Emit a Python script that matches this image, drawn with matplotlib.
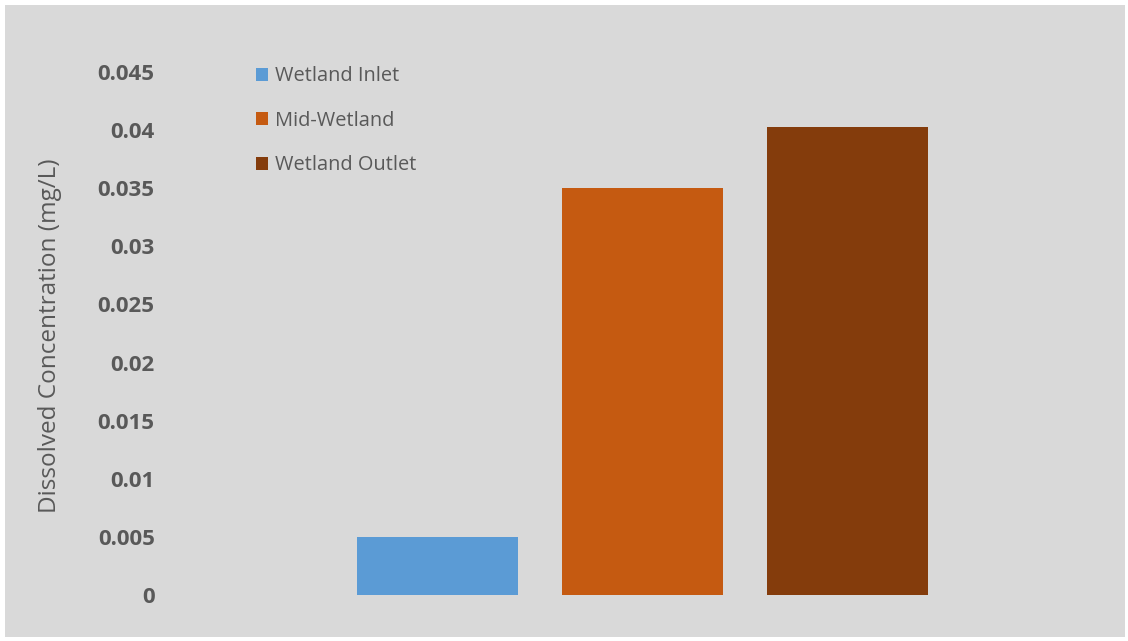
import matplotlib.pyplot as plt
from matplotlib.patches import Rectangle

# data
series = ['Wetland Inlet', 'Mid-Wetland', 'Wetland Outlet']
values = [0.005, 0.035, 0.0403]
colors = ['#5b9bd5', '#c55a11', '#843c0c']
yticks = [0, 0.005, 0.01, 0.015, 0.02, 0.025, 0.03, 0.035, 0.04, 0.045]
ytick_labels = ['0', '0.005', '0.01', '0.015', '0.02', '0.025', '0.03', '0.035', '0.04', '0.045']

W, H = 1128, 641
fig = plt.figure(figsize=(W / 100, H / 100), dpi=100)
fig.patch.set_facecolor('white')
fig.patches.append(Rectangle((5 / W, 4 / H), 1120 / W, 632 / H, transform=fig.transFigure,
                             facecolor='#d9d9d9', edgecolor='none', zorder=0))

# plot area in pixels: x 170..1115, y 72..595
ax = fig.add_axes([170 / W, (H - 595) / H, 945 / W, 523 / H])
ax.set_facecolor('none')
ax.set_zorder(2)

grey = '#595959'
for i, (name, v, c) in enumerate(zip(series, values, colors)):
    ax.bar(i, v, width=0.785, color=c, label=name, zorder=2)

ax.set_xlim(-1.305, 3.305)
ax.set_ylim(0, 0.045)
ax.set_yticks(yticks)
ax.set_yticklabels(ytick_labels, fontsize=16, fontweight='bold', color=grey,
                   family=['Open Sans', 'DejaVu Sans'])
ax.set_xticks([])
ax.tick_params(axis='y', length=0, pad=11)
for s in ax.spines.values():
    s.set_visible(False)

fig.text(50 / W, 1 - 336 / H, 'Dissolved Concentration (mg/L)', rotation=90,
         ha='center', va='center', fontsize=17.5, color=grey,
         family=['Open Sans', 'DejaVu Sans'])

leg = ax.legend(loc='upper left', bbox_to_anchor=(68 / 945, 1.045), frameon=False,
                handlelength=0.6, handleheight=0.6, handletextpad=0.35,
                labelspacing=1.22, prop={'family': 'Open Sans', 'size': 14.4})
for t in leg.get_texts():
    t.set_color(grey)

fig.savefig('out.png', dpi=100)
